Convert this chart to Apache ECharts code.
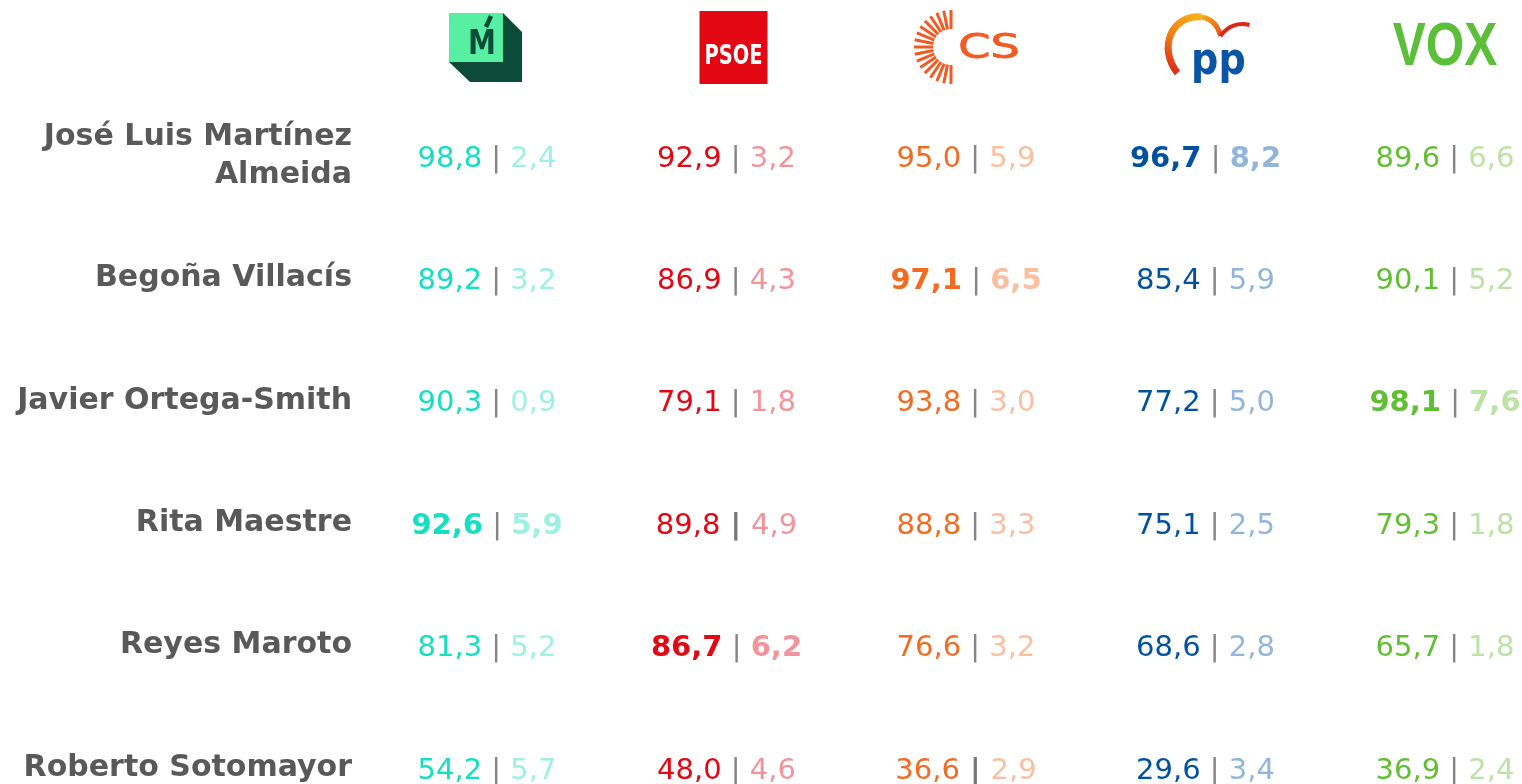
<!DOCTYPE html>
<html>
<head>
<meta charset="utf-8">
<script src="https://cdn.jsdelivr.net/npm/echarts@6/dist/echarts.min.js"></script>
<style>
  html, body { margin: 0; padding: 0; background: #fff; }
  #chart { width: 1522px; height: 784px; }
</style>
</head>
<body>
<div id="chart"></div>
<script>
// columnas (partidos) y filas (candidatos)
const parties = ['Más Madrid', 'PSOE', 'Cs', 'PP', 'Vox'];
const candidates = ['José Luis Martínez\nAlmeida', 'Begoña Villacís', 'Javier Ortega-Smith', 'Rita Maestre', 'Reyes Maroto', 'Roberto Sotomayor'];

// primer número | segundo número, por partido (una entrada por candidato)
const mmKnown = [98.8, 89.2, 90.3, 92.6, 81.3, 54.2];
const mmScore = [2.4, 3.2, 0.9, 5.9, 5.2, 5.7];
const psoeKnown = [92.9, 86.9, 79.1, 89.8, 86.7, 48.0];
const psoeScore = [3.2, 4.3, 1.8, 4.9, 6.2, 4.6];
const csKnown = [95.0, 97.1, 93.8, 88.8, 76.6, 36.6];
const csScore = [5.9, 6.5, 3.0, 3.3, 3.2, 2.9];
const ppKnown = [96.7, 85.4, 77.2, 75.1, 68.6, 29.6];
const ppScore = [8.2, 5.9, 5.0, 2.5, 2.8, 3.4];
const voxKnown = [89.6, 90.1, 98.1, 79.3, 65.7, 36.9];
const voxScore = [6.6, 5.2, 7.6, 1.8, 1.8, 2.4];

// partido propio de cada candidato (se resalta en negrita), -1 = ninguno
const ownParty = [3, 2, 4, 0, 1, -1];

const known = [mmKnown, psoeKnown, csKnown, ppKnown, voxKnown];
const score = [mmScore, psoeScore, csScore, ppScore, voxScore];

const colors = [
    { main: '#14dfc0', light: '#9ef0e4' },
    { main: '#e30613', light: '#f2949b' },
    { main: '#f36b21', light: '#fabf9f' },
    { main: '#00519f', light: '#92b6da' },
    { main: '#62bf33', light: '#bce3a5' }
];
// separadores que salen más gruesos en el original [fila, columna]
const heavyBars = [[3, 1], [5, 2]];

const numFont = '"DejaVu Sans"';
const fmt = v => v.toFixed(1).replace('.', ',');

let myChart = echarts.init(document.getElementById('chart'));

const series = parties.map((p, pi) => {
    const c = colors[pi];
    return {
        type: 'scatter',
        name: p,
        symbolSize: 0,
        silent: true,
        itemStyle: { opacity: 1 },
        data: candidates.map((cand, ci) => [pi, ci, known[pi][ci], score[pi][ci]]),
        label: {
            show: true,
            position: 'inside',
            offset: [0, 3],
            opacity: 1,
            formatter: params => {
                const ci = params.data[1];
                const b = ownParty[ci] === pi;
                const heavy = heavyBars.some(h => h[0] === ci && h[1] === pi);
                return `{${b ? 'kb' : 'k'}|${fmt(params.data[2])}}{${heavy ? 'sb' : 's'}| | }{${b ? 'vb' : 'v'}|${fmt(params.data[3])}}`;
            },
            rich: {
                k: { color: c.main, fontSize: 29, fontFamily: numFont },
                kb: { color: c.main, fontSize: 29, fontFamily: numFont, fontWeight: 'bold' },
                v: { color: c.light, fontSize: 29, fontFamily: numFont },
                vb: { color: c.light, fontSize: 29, fontFamily: numFont, fontWeight: 'bold' },
                s: { color: '#858585', fontSize: 29, fontFamily: numFont },
                sb: { color: '#777777', fontSize: 29, fontFamily: numFont, fontWeight: 'bold' }
            }
        }
    };
});

let option = {
    animation: false,
    backgroundColor: '#fff',
    grid: {
        left: 487,
        right: 77,
        top: 156,
        bottom: 16,
        outerBoundsMode: 'none'
    },
    xAxis: {
        type: 'category',
        data: parties,
        boundaryGap: false,
        show: false
    },
    yAxis: {
        type: 'category',
        data: candidates,
        inverse: true,
        boundaryGap: false,
        axisLine: { show: false },
        axisTick: { show: false },
        splitLine: { show: false },
        axisLabel: {
            margin: 135,
            color: '#595959',
            fontSize: 30,
            fontWeight: 'bold',
            fontFamily: '"DejaVu Sans"',
            lineHeight: 38,
            align: 'right',
            padding: [0, 0, 12, 0]
        }
    },
    series
};

myChart.setOption(option);

// logos de los partidos encima de cada columna
function logoMM(c) {
    return [
        { type: 'polygon', shape: { points: [[c - 38, 62], [c + 16, 13], [c + 35, 32], [c + 35, 82], [c - 17, 82]] }, style: { fill: '#0b4b37' } },
        { type: 'rect', shape: { x: c - 38, y: 13, width: 54, height: 49 }, style: { fill: '#57f0a3' } },
        { type: 'text', x: c - 5, y: 45, scaleX: 0.85, style: { text: 'M', font: 'bold 33px "DejaVu Sans"', fill: '#0b4b37', align: 'center', verticalAlign: 'middle' } },
        { type: 'line', shape: { x1: c - 1, y1: 27, x2: c + 4, y2: 16 }, style: { stroke: '#0b4b37', lineWidth: 4.5 } }
    ];
}

function logoPSOE(c) {
    return [
        { type: 'rect', shape: { x: c - 27, y: 11, width: 68, height: 73 }, style: { fill: '#e30613' } },
        { type: 'text', x: c + 7, y: 57, scaleX: 0.72, style: { text: 'PSOE', font: 'bold 27px "DejaVu Sans"', fill: '#fff', align: 'center', verticalAlign: 'middle' } }
    ];
}

function logoCS(c) {
    const out = [];
    const cx = c - 15, cy = 47, n = 16;
    for (let i = 0; i <= n; i++) {
        const a = -Math.PI / 2 - i * Math.PI / n;
        out.push({
            type: 'line',
            shape: { x1: cx + 18 * Math.cos(a), y1: cy + 18 * Math.sin(a), x2: cx + 37 * Math.cos(a), y2: cy + 37 * Math.sin(a) },
            style: { stroke: '#f15a22', lineWidth: 3 }
        });
    }
    out.push({ type: 'text', x: c + 23, y: 49, scaleX: 1.4, style: { text: 'CS', font: '33px "DejaVu Sans"', fill: '#f15a22', stroke: '#f15a22', lineWidth: 0.8, align: 'center', verticalAlign: 'middle' } });
    return out;
}

function logoPP(c) {
    return [
        {
            type: 'bezierCurve',
            shape: { x1: c - 28, y1: 73, cpx1: c - 48, cpy1: 48, cpx2: c - 34, cpy2: 14, x2: c - 4, y2: 17 },
            style: { fill: 'none', lineWidth: 7, stroke: new echarts.graphic.LinearGradient(0, 1, 1, 0, [{ offset: 0, color: '#d7141e' }, { offset: 0.5, color: '#f07c12' }, { offset: 1, color: '#f8b91b' }]) }
        },
        {
            type: 'bezierCurve',
            shape: { x1: c - 4, y1: 17, cpx1: c + 8, cpy1: 19, cpx2: c + 13, cpy2: 28, x2: c + 15, y2: 36 },
            style: { fill: 'none', lineWidth: 5, stroke: new echarts.graphic.LinearGradient(0, 0, 1, 1, [{ offset: 0, color: '#f8b31b' }, { offset: 1, color: '#e8421a' }]) }
        },
        {
            type: 'bezierCurve',
            shape: { x1: c + 15, y1: 36, cpx1: c + 22, cpy1: 26, cpx2: c + 33, cpy2: 22, x2: c + 44, y2: 25 },
            style: { fill: 'none', lineWidth: 4, stroke: '#e2231a' }
        },
        { type: 'text', x: c + 13, y: 62, scaleX: 0.85, style: { text: 'pp', font: 'bold 45px "DejaVu Sans"', fill: '#0a56a5', align: 'center', verticalAlign: 'middle' } }
    ];
}

function logoVOX(c) {
    return [
        { type: 'text', x: c, y: 48, scaleX: 0.8, style: { text: 'VOX', font: 'bold 62px "Liberation Sans"', fill: '#5bbf3a', align: 'center', verticalAlign: 'middle' } }
    ];
}

const logoMakers = [logoMM, logoPSOE, logoCS, logoPP, logoVOX];
let graphic = [];
parties.forEach((p, pi) => {
    const x = myChart.convertToPixel({ gridIndex: 0 }, [pi, 0])[0];
    graphic = graphic.concat(logoMakers[pi](x));
});
myChart.setOption({ graphic: graphic.map(g => Object.assign({ silent: true }, g)) });

window.addEventListener('resize', () => {
    myChart.resize();
});
</script>
</body>
</html>
